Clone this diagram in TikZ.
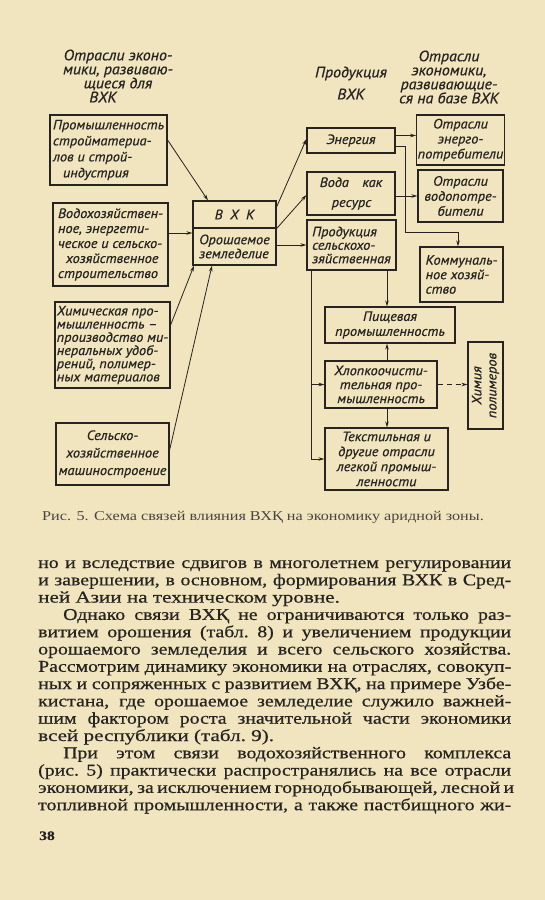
\documentclass[tikz,border=0pt]{standalone}
\usepackage{fontspec}
\setmainfont{Liberation Serif}
\newfontfamily\dfont[FakeStretch=1.06,FakeBold=0.6]{PT Sans}
\newfontfamily\bodyfont[FakeStretch=1.2,FakeBold=0.6]{Liberation Serif}
\newfontfamily\widefont[FakeStretch=1.28,FakeBold=0.6]{Liberation Serif}
\newfontfamily\capfont[FakeStretch=1.2]{Liberation Serif}
\usetikzlibrary{arrows.meta,calc}
\definecolor{paper}{RGB}{240,229,190}
\definecolor{ink}{RGB}{38,35,32}
\begin{document}
\begin{tikzpicture}[x=1pt,y=-1pt,
  bx/.style={draw=ink, line width=1.2pt, inner sep=1pt, text=ink,
    font=\dfont\itshape\fontsize{13.5}{15}\selectfont},
  hd/.style={inner sep=0pt, text=ink, align=center,
    font=\dfont\itshape\fontsize{15}{14}\selectfont},
  arr/.style={draw=ink, line width=0.8pt, -{Stealth[length=6pt,width=3.5pt]}},
  bl/.style={anchor=base west, inner sep=0pt, text=ink,
    font=\bodyfont\fontsize{16.5}{17}\selectfont},
  blw/.style={bl, font=\widefont\fontsize{16.5}{17}\selectfont}]
\fill[paper] (0,0) rectangle (545,900);
\useasboundingbox (0,0) rectangle (545,900);

% headers
\node[hd] (h1) at (118,76) {Отрасли эконо-\\мики, развиваю-\\щиеся для\hspace*{14pt}\\ВХК\hspace*{30pt}};
\node[hd] (h2) at (351,83) {Продукция\\[8pt]ВХК};
\node[hd] (h3) at (449,77) {Отрасли\\экономики,\\развивающие-\\ся на базе ВХК};

% left column
\node[bx, minimum width=117pt, minimum height=70pt, align=left,
  font=\dfont\itshape\fontsize{13.5}{16}\selectfont] (b1) at (108.5,150)
  {Промышленность\\стройматериа-\\лов и строй-\\\hspace*{10pt}индустрия};
\node[bx, minimum width=115pt, minimum height=83pt, align=left] (b2) at (110.5,244.5)
  {Водохозяйствен-\\ное, энергети-\\ческое и сельско-\\\hspace*{8pt}хозяйственное\\строительство};
\node[bx, minimum width=115pt, minimum height=86pt, align=left,
  font=\dfont\itshape\fontsize{13.5}{13.2}\selectfont] (b3) at (112.5,345)
  {Химическая про-\\мышленность –\\производство ми-\\неральных удоб-\\рений, полимер-\\ных материалов};
\node[bx, minimum width=113pt, minimum height=62pt, align=center,
  font=\dfont\itshape\fontsize{13.5}{17.5}\selectfont] (b4) at (112.5,454)
  {Сельско-\\хозяйственное\\машиностроение};

% VHK
\node[bx, minimum width=83pt, minimum height=27pt] (vt) at (234.5,214.5) {В\;\;Х\;\;К};
\node[bx, minimum width=83pt, minimum height=37pt, align=left,
  font=\dfont\itshape\fontsize{13.5}{14}\selectfont] (vb) at (234.5,246.5)
  {Орошаемое\\земледелие};

% middle column
\node[bx, minimum width=88pt, minimum height=25pt] (en) at (351,140.5) {Энергия};
\node[bx, minimum width=88pt, minimum height=43pt, align=left,
  font=\dfont\itshape\fontsize{13.5}{20}\selectfont] (voda) at (351,193.5)
  {Вода\quad как\\\hspace*{12pt}ресурс};
\node[bx, minimum width=89pt, minimum height=50pt, align=left,
  font=\dfont\itshape\fontsize{13.5}{13.5}\selectfont] (prod) at (351.5,245)
  {Продукция\\сельскохо-\\зяйственная};

% right column
\node[bx, minimum width=85pt, minimum height=50pt, align=center] (ep) at (460.5,140)
  {Отрасли\\энерго-\\потребители};
\node[bx, minimum width=85pt, minimum height=52pt, align=center] (vp) at (460.5,196)
  {Отрасли\\водопотре-\\бители};
\node[bx, minimum width=83pt, minimum height=55pt, align=left,
  font=\dfont\itshape\fontsize{13.5}{14.5}\selectfont] (kom) at (461.5,274.5)
  {Коммуналь-\\ное хозяй-\\ство};

% lower
\node[bx, minimum width=130pt, minimum height=36pt, align=center] (pish) at (390,325)
  {Пищевая\\промышленность};
\node[bx, minimum width=112pt, minimum height=47pt, align=center,
  font=\dfont\itshape\fontsize{13.5}{14}\selectfont] (hlop) at (381,384.5)
  {Хлопкоочисти-\\тельная про-\\мышленность};
\node[bx, minimum width=35pt, minimum height=87pt] (him) at (485.5,385.5) {};
\node[inner sep=0pt, text=ink, align=center, rotate=90,
  font=\dfont\itshape\fontsize{13.5}{15}\selectfont] (himt) at (him.center) {Химия\\полимеров};
\node[bx, minimum width=123pt, minimum height=62pt, align=center] (tex) at (386.5,459)
  {Текстильная и\\другие отрасли\\легкой промыш-\\ленности};

% connectors into VHK
\draw[arr] ([yshift=10pt]b1.east) -- ([xshift=-26.5pt]vt.north);
\path ([yshift=13.5pt]vb.west) coordinate (c2);
\draw[arr] (c2 -| b2.east) -- (c2);
\draw[arr] ([yshift=20pt]b3.east) -- ([xshift=-40.5pt]vb.south);
\draw[arr] ([yshift=4pt]b4.east) -- ([xshift=-22.5pt]vb.south);

% out of VHK
\draw[arr] ([yshift=7.5pt]vt.east) -- ([yshift=1.5pt]en.west);
\draw[arr] (vt.south east) -- ([yshift=-1.5pt]voda.west);
\draw[arr] (prod.west -| vb.east) -- (prod.west);

% right side
\path ([yshift=5pt]en.east) coordinate (c8);
\draw[arr] (c8) -- (c8 -| ep.west);
\path ([yshift=-6pt]en.east) coordinate (c9);
\coordinate (k1) at (405,232);
\draw[arr] (c9) -| (k1) -| ([xshift=-3.5pt]kom.north);
\path (vp.west -| voda.east) coordinate (c10);
\draw[arr] (c10) -- (vp.west);

% lower
\path ([xshift=35.5pt]prod.south) coordinate (c11);
\draw[arr] (c11) -- (c11 |- pish.north);
\path ([xshift=-40.5pt]prod.south) coordinate (c12);
\draw[arr] (c12) |- (tex.west);
\draw[arr] (c12 |- hlop.west) -- (hlop.west);
\path ([xshift=6pt]hlop.north) coordinate (c13);
\draw[arr] (c13) -- (c13 |- pish.south);
\path ([xshift=6pt]hlop.south) coordinate (c14);
\draw[arr] (c14) -- (c14 |- tex.north);
\draw[arr, dash pattern=on 5pt off 4pt] (hlop.east) -- (hlop.east -| him.west);

% caption
\node[anchor=base west, inner sep=0pt, text=ink!85, font=\capfont\fontsize{13.5}{15}\selectfont] (cap) at (42,520)
  {Рис. 5. Схема связей влияния ВХҚ на экономику аридной зоны.};

% body text
\node[bl] (t1) at (38,568) {\makebox[473pt][s]{но и вследствие сдвигов в многолетнем регулировании}};
\node[bl] (t2) at (38,585.3) {\makebox[473pt][s]{и завершении, в основном, формирования ВХК в Сред-}};
\node[blw] (t3) at (38,602.6) {ней Азии на техническом уровне.};
\node[bl] (t4) at (63,619.9) {\makebox[448pt][s]{Однако связи ВХҚ не ограничиваются только раз-}};
\node[bl] (t5) at (38,637.2) {\makebox[473pt][s]{витием орошения (табл.~8) и увеличением продукции}};
\node[bl] (t6) at (38,654.5) {\makebox[473pt][s]{орошаемого земледелия и всего сельского хозяйства.}};
\node[bl] (t7) at (38,671.8) {\makebox[473pt][s]{Рассмотрим динамику экономики на отраслях, совокуп-}};
\node[bl] (t8) at (38,689.1) {\makebox[473pt][s]{ных и сопряженных с развитием ВХҚ, на примере Узбе-}};
\node[bl] (t9) at (38,706.4) {\makebox[473pt][s]{кистана, где орошаемое земледелие служило важней-}};
\node[bl] (t10) at (38,723.7) {\makebox[473pt][s]{шим фактором роста значительной части экономики}};
\node[blw] (t11) at (38,741) {всей республики (табл.~9).};
\node[bl] (t12) at (63,758.3) {\makebox[448pt][s]{При этом связи водохозяйственного комплекса}};
\node[bl] (t13) at (38,775.6) {\makebox[473pt][s]{(рис.~5) практически распространялись на все отрасли}};
\node[bl] (t14) at (38,792.9) {\makebox[473pt][s]{экономики, за исключением горнодобывающей, лесной и}};
\node[bl] (t15) at (38,810.2) {\makebox[473pt][s]{топливной промышленности, а также пастбищного жи-}};
\node[anchor=base west, inner sep=0pt, text=ink, font=\bodyfont\bfseries\fontsize{13}{14}\selectfont] (pg) at (39,840) {38};
\end{tikzpicture}
\end{document}
